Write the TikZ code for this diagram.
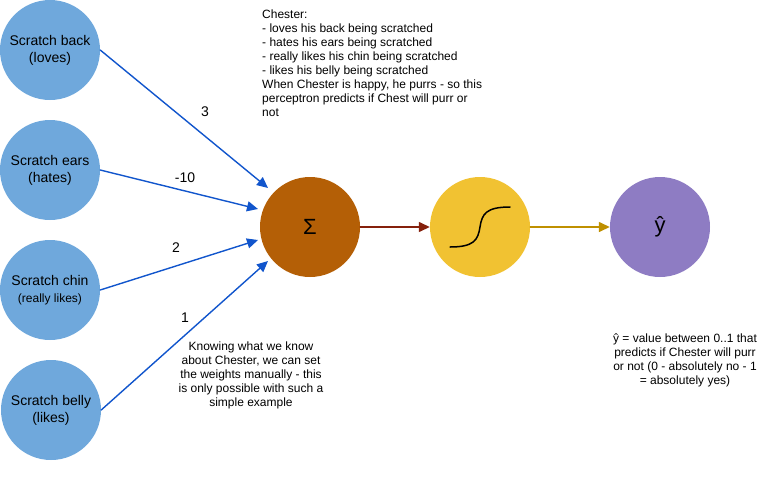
\documentclass[tikz,border=0pt]{standalone}
\usepackage{fontspec}
\setmainfont{Liberation Sans}
\usepackage{xcolor}
\usetikzlibrary{arrows}
\usetikzlibrary{arrows.meta,calc}
\definecolor{inblue}{HTML}{6FA8DC}
\definecolor{arblue}{HTML}{1155CC}
\definecolor{sumbrown}{HTML}{B45F06}
\definecolor{sigyellow}{HTML}{F1C232}
\definecolor{outpurple}{HTML}{8E7CC3}
\definecolor{arred}{HTML}{85200C}
\definecolor{argold}{HTML}{BF9000}
\tikzset{
    unit/.style={circle,minimum size=100pt,inner sep=0pt,align=center,font=\fontsize{14}{17}\selectfont},
    wlabel/.style={font=\fontsize{14}{16}\selectfont},
    note/.style={font=\fontsize{12}{14}\selectfont},
    link/.style={-{Triangle[length=11pt,width=10pt]},line width=1.4pt}
}
\begin{document}
\begin{tikzpicture}[line cap=round,line join=round,x=1pt,y=-1pt]
                \useasboundingbox (0,0) rectangle (782,480);
                \node [unit,fill=inblue] (back) at (50,50) {Scratch back\\(loves)};
                \node [unit,fill=inblue] (ears) at (50,170) {Scratch ears\\(hates)};
                \node [unit,fill=inblue] (chin) at (50,290) {Scratch chin\\{\fontsize{12}{14}\selectfont(really likes)}};
                \node [unit,fill=inblue] (belly) at (51,410) {Scratch belly\\(likes)};
                \node [unit,fill=sumbrown,font=\fontsize{22}{24}\selectfont] (sum) at (310,227) {Σ};
                \node [unit,fill=sigyellow] (sig) at (480,227) {};
                \node [unit,fill=outpurple,font=\fontsize{22}{24}\selectfont] (yhat) at (660,227) {ŷ};
                \coordinate (s1) at (268,188);
                \coordinate (s2) at (258,209);
                \coordinate (s3) at (258,240);
                \coordinate (s4) at (268,261);
                \draw [link,color=arblue] (back.east) -- (s1);
                \draw [link,color=arblue] (ears.east) -- (s2);
                \draw [link,color=arblue] (chin.east) -- (s3);
                \draw [link,color=arblue] (belly.east) -- (s4);
                \draw [link,color=arred] (sum.east) -- (sig.west);
                \draw [link,color=argold] (sig.east) -- (yhat.west);
                \draw [line width=1.5pt] (450,247) .. controls (474,247) and (478,240) .. (480,227) .. controls (482,214) and (486,207) .. (510,207);
                % weights
                \node [wlabel] (w1) at (205,112) {3};
                \node [wlabel] (w2) at (185,178) {-10};
                \node [wlabel] (w3) at (176,248) {2};
                \node [wlabel] (w4) at (185,318) {1};
                % notes
                \node [note,anchor=north west,align=left,inner sep=0pt] (story) at (262,10) {Chester:\\- loves his back being scratched\\- hates his ears being scratched\\- really likes his chin being scratched\\- likes his belly being scratched\\When Chester is happy, he purrs - so this\\perceptron predicts if Chest will purr or\\not};
                \node [note,align=center,inner sep=0pt] (manual) at (251,375) {Knowing what we know\\about Chester, we can set\\the weights manually - this\\is only possible with such a\\simple example};
                \node [note,align=center,inner sep=0pt] (range) at (685,360) {ŷ = value between 0..1 that\\predicts if Chester will purr\\or not (0 - absolutely no - 1\\= absolutely yes)};
\end{tikzpicture}
\end{document}
